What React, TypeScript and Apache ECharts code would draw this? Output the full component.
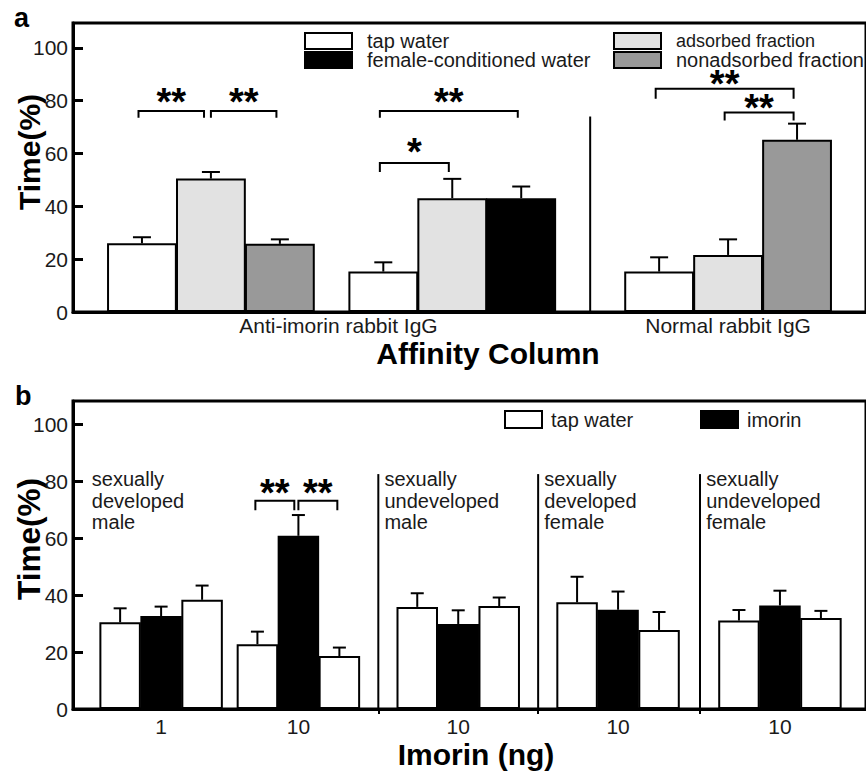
import React, { useEffect, useRef } from 'react';
import * as echarts from 'echarts';

const FONT = "'Liberation Sans', Arial, Helvetica, sans-serif";

// ---------------- Panel a : data ----------------
const aAxisLabels = ['Anti-imorin rabbit IgG', 'Normal rabbit IgG'];
const aConditions = ['tap water', 'female-conditioned water', 'adsorbed fraction', 'nonadsorbed fraction'];
const aBarGroups = [0, 0, 0, 1, 1, 1, 2, 2, 2];
const aBarSlots = [0, 1, 2, 0, 1, 2, 0, 1, 2];
const aBarConditions = [
  'tap water', 'adsorbed fraction', 'nonadsorbed fraction',
  'tap water', 'adsorbed fraction', 'female-conditioned water',
  'tap water', 'adsorbed fraction', 'nonadsorbed fraction',
];
const aMeans = [26.0, 50.5, 25.8, 15.3, 43.1, 43.1, 15.3, 21.6, 65.2];
const aErrors = [2.3, 2.5, 1.7, 3.5, 7.3, 4.4, 5.4, 5.9, 6.1];
const aYTicks = [0, 20, 40, 60, 80, 100];
// significance brackets (bar indices, levels in %)
const aBrFrom = [0, 1, 3, 3, 6, 7];
const aBrTo = [1, 2, 5, 4, 8, 8];
const aBrTip = [73.5, 73.5, 73.5, 53.0, 80.7, 72.5];
const aBrTop = [76.1, 76.1, 76.1, 56.4, 84.5, 75.5];
const aBrStarLevel = [82.0, 82.0, 82.0, 63.0, 88.6, 79.5];
const aBrStars = ['**', '**', '**', '*', '**', '**'];

// ---------------- Panel b : data ----------------
const bAxisLabels = ['1', '10', '10', '10', '10'];
const bConditions = ['tap water', 'imorin'];
const bDescriptors = [
  'sexually\ndeveloped\nmale',
  'sexually\nundeveloped\nmale',
  'sexually\ndeveloped\nfemale',
  'sexually\nundeveloped\nfemale',
];
const bBarGroups = [0, 0, 0, 1, 1, 1, 2, 2, 2, 3, 3, 3, 4, 4, 4];
const bBarSlots = [0, 1, 2, 0, 1, 2, 0, 1, 2, 0, 1, 2, 0, 1, 2];
const bBarConditions = bBarSlots.map((s) => (s === 1 ? 'imorin' : 'tap water'));
const bMeans = [30.5, 32.7, 38.4, 22.8, 60.9, 18.6, 35.9, 29.9, 36.2, 37.5, 34.9, 27.8, 31.1, 36.4, 32.0];
const bErrors = [4.9, 3.3, 5.0, 4.4, 7.3, 3.0, 4.8, 4.8, 3.0, 9.0, 6.4, 6.3, 3.7, 5.2, 2.5];
const bYTicks = [0, 20, 40, 60, 80, 100];
const bBrFrom = [3, 4];
const bBrTo = [4, 5];
const bBrTip = [69.9, 69.9];
const bBrTop = [73.2, 73.2];
const bBrStarLevel = [78.1, 78.1];
const bBrStars = ['**', '**'];

// ---------------- layout / styles ----------------
const FILLS: Record<string, string> = {
  'tap water': '#ffffff',
  'female-conditioned water': '#000000',
  'adsorbed fraction': '#e2e2e2',
  'nonadsorbed fraction': '#999999',
  imorin: '#000000',
};
const GRID_LEFT = 73;
const GRID_W = 803;
const A_LAYOUT = {
  top: 23, height: 289, yMax: 109.4, xMax: 11.5,
  groupCenters: [2, 5.5, 9.5], dividers: [7.5], dividerTop: 74,
  labelAt: [3.85, 9.5], cap: 18,
};
const B_LAYOUT = {
  top: 401, height: 308, yMax: 108.3, xMax: 19.35,
  groupCenters: [2.15, 5.5, 9.4, 13.3, 17.25], dividers: [7.45, 11.35, 15.3], dividerTop: 82.6,
  descAt: [0.46, 7.6, 11.5, 15.45], descTop: 84.7, cap: 13,
};
const STAR_SIZE = 38;

function barXs(centers: number[], groups: number[], slots: number[]) {
  return groups.map((g, i) => centers[g] + (slots[i] - 1));
}

function barSeries(idx: number, xs: number[], means: number[], conds: string[], bw: number) {
  return {
    type: 'bar',
    xAxisIndex: idx,
    yAxisIndex: idx,
    barWidth: bw,
    z: 2,
    itemStyle: { borderColor: '#000', borderWidth: 2 },
    data: means.map((m, i) => ({ value: [xs[i], m], itemStyle: { color: FILLS[conds[i]] } })),
  };
}

function errorSeries(idx: number, xs: number[], means: number[], errs: number[], cap: number) {
  return {
    type: 'custom',
    xAxisIndex: idx,
    yAxisIndex: idx,
    z: 5,
    silent: true,
    data: means.map((m, i) => [xs[i], m, errs[i]]),
    renderItem: (params: any, api: any) => {
      const x = api.value(0);
      const m = api.value(1);
      const e = api.value(2);
      const b = api.coord([x, m]);
      const t = api.coord([x, m + e]);
      return {
        type: 'group',
        children: [
          { type: 'line', shape: { x1: b[0], y1: b[1], x2: t[0], y2: t[1] }, style: { stroke: '#000', lineWidth: 2 } },
          { type: 'line', shape: { x1: t[0] - cap / 2, y1: t[1], x2: t[0] + cap / 2, y2: t[1] }, style: { stroke: '#000', lineWidth: 2 } },
        ],
      };
    },
  };
}

function bracketSeries(idx: number, xs: number[], from: number[], to: number[], tip: number[], top: number[], lvl: number[], stars: string[]) {
  const data = from.map((f, i) => {
    let x1 = xs[f] - 0.05;
    let x2 = xs[to[i]] - 0.05;
    if (to.some((t, j) => j !== i && t === f)) x1 += 0.05;
    if (from.some((s, j) => j !== i && s === to[i])) x2 -= 0.05;
    return [x1, x2, tip[i], top[i], lvl[i]];
  });
  return {
    type: 'custom',
    xAxisIndex: idx,
    yAxisIndex: idx,
    z: 6,
    silent: true,
    data,
    renderItem: (params: any, api: any) => {
      const x1 = api.value(0);
      const x2 = api.value(1);
      const t = api.value(2);
      const tp = api.value(3);
      const s = api.value(4);
      const pts = [api.coord([x1, t]), api.coord([x1, tp]), api.coord([x2, tp]), api.coord([x2, t])];
      const sc = api.coord([(x1 + x2) / 2, s]);
      return {
        type: 'group',
        children: [
          { type: 'polyline', shape: { points: pts }, style: { stroke: '#000', fill: 'none', lineWidth: 2 } },
          {
            type: 'text', x: sc[0], y: sc[1] + 0.17 * STAR_SIZE,
            style: {
              text: stars[params.dataIndex], align: 'center', verticalAlign: 'middle',
              fontSize: STAR_SIZE, lineHeight: 18, fontWeight: 'bold', fontFamily: FONT, fill: '#000',
            },
          },
        ],
      };
    },
  };
}

function dividerSeries(idx: number, xs: number[], topV: number) {
  return {
    type: 'custom',
    xAxisIndex: idx,
    yAxisIndex: idx,
    z: 4,
    silent: true,
    data: xs.map((x) => [x, topV]),
    renderItem: (params: any, api: any) => {
      const a = api.coord([api.value(0), 0]);
      const b = api.coord([api.value(0), api.value(1)]);
      return { type: 'line', shape: { x1: a[0], y1: a[1], x2: b[0], y2: b[1] }, style: { stroke: '#000', lineWidth: 2 } };
    },
  };
}

function descriptorSeries(idx: number, xs: number[], topV: number, texts: string[]) {
  return {
    type: 'custom',
    xAxisIndex: idx,
    yAxisIndex: idx,
    z: 6,
    silent: true,
    data: xs.map((x) => [x, topV]),
    renderItem: (params: any, api: any) => {
      const p = api.coord([api.value(0), api.value(1)]);
      return {
        type: 'text', x: p[0], y: p[1],
        style: { text: texts[params.dataIndex], align: 'left', verticalAlign: 'top', fontSize: 20, lineHeight: 21.7, fontFamily: FONT, fill: '#1a1a1a' },
      };
    },
  };
}

function yAxis(idx: number, max: number, ticks: number[]) {
  return {
    gridIndex: idx, type: 'value', min: 0, max,
    splitLine: { show: false },
    axisLine: { show: true, lineStyle: { color: '#000', width: 3 } },
    axisTick: { show: true, inside: true, length: 10, customValues: ticks, lineStyle: { color: '#000', width: 3 } },
    axisLabel: { customValues: ticks, fontSize: 21, color: '#1a1a1a', margin: 5, fontFamily: FONT },
  };
}

function xAxis(idx: number, max: number, labelAt: number[], labels: string[], margin: number, tickAt: number[] | null) {
  return {
    gridIndex: idx, type: 'value', min: 0, max,
    splitLine: { show: false },
    axisLine: { show: true, onZero: false, lineStyle: { color: '#000', width: 3 } },
    axisTick: tickAt ? { show: true, customValues: tickAt, length: 5, lineStyle: { color: '#000', width: 2 } } : { show: false },
    axisLabel: {
      customValues: labelAt,
      fontSize: 21, lineHeight: 21, color: '#1a1a1a', margin, fontFamily: FONT,
      formatter: (v: number) => {
        let best = 0;
        labelAt.forEach((p, i) => { if (Math.abs(p - v) < Math.abs(labelAt[best] - v)) best = i; });
        return labels[best];
      },
    },
  };
}

function legendItems(entries: string[], pos: number[][], boxW: number, boxH: number, textOff: number, sizes: number[]) {
  const out: any[] = [];
  entries.forEach((name, i) => {
    const [x, y] = pos[i];
    out.push({ type: 'rect', shape: { x, y, width: boxW, height: boxH }, style: { fill: FILLS[name], stroke: '#000', lineWidth: 2 } });
    out.push({
      type: 'text', x: x + textOff, y: y + boxH / 2,
      style: { text: name, align: 'left', verticalAlign: 'middle', fontSize: sizes[i], lineHeight: 17, fontFamily: FONT, fill: '#1a1a1a' },
    });
  });
  return out;
}

function titleText(text: string, x: number, y: number, size: number, rotate = false, align = 'center') {
  return {
    type: 'text', x, y, rotation: rotate ? Math.PI / 2 : 0,
    style: { text, align, verticalAlign: 'middle', fontSize: size, lineHeight: Math.round(size * 0.8), fontWeight: 'bold', fontFamily: FONT, fill: '#000' },
  };
}

function buildOption() {
  const aXs = barXs(A_LAYOUT.groupCenters, aBarGroups, aBarSlots);
  const bXs = barXs(B_LAYOUT.groupCenters, bBarGroups, bBarSlots);
  const aBw = GRID_W / A_LAYOUT.xMax;
  const bBw = GRID_W / B_LAYOUT.xMax;
  return {
    animation: false,
    backgroundColor: '#ffffff',
    textStyle: { fontFamily: FONT },
    grid: [
      { left: GRID_LEFT, top: A_LAYOUT.top, width: GRID_W, height: A_LAYOUT.height, show: true, borderColor: '#000', borderWidth: 3, backgroundColor: 'transparent' },
      { left: GRID_LEFT, top: B_LAYOUT.top, width: GRID_W, height: B_LAYOUT.height, show: true, borderColor: '#000', borderWidth: 3, backgroundColor: 'transparent' },
    ],
    xAxis: [
      xAxis(0, A_LAYOUT.xMax, A_LAYOUT.labelAt, aAxisLabels, 3, null),
      xAxis(1, B_LAYOUT.xMax, B_LAYOUT.groupCenters, bAxisLabels, 7, B_LAYOUT.dividers),
    ],
    yAxis: [yAxis(0, A_LAYOUT.yMax, aYTicks), yAxis(1, B_LAYOUT.yMax, bYTicks)],
    series: [
      barSeries(0, aXs, aMeans, aBarConditions, aBw),
      errorSeries(0, aXs, aMeans, aErrors, A_LAYOUT.cap),
      bracketSeries(0, aXs, aBrFrom, aBrTo, aBrTip, aBrTop, aBrStarLevel, aBrStars),
      dividerSeries(0, A_LAYOUT.dividers, A_LAYOUT.dividerTop),
      barSeries(1, bXs, bMeans, bBarConditions, bBw),
      errorSeries(1, bXs, bMeans, bErrors, B_LAYOUT.cap),
      bracketSeries(1, bXs, bBrFrom, bBrTo, bBrTip, bBrTop, bBrStarLevel, bBrStars),
      dividerSeries(1, B_LAYOUT.dividers, B_LAYOUT.dividerTop),
      descriptorSeries(1, B_LAYOUT.descAt, B_LAYOUT.descTop, bDescriptors),
    ],
    graphic: [
      ...legendItems(aConditions, [[305, 33], [305, 52], [614, 33], [614, 52]], 47, 16, 62, [20, 20, 18, 20]),
      ...legendItems(bConditions, [[505, 411], [701, 411]], 37, 17, 46, [20, 20]),
      titleText('Time(%)', 29, 152, 30, true),
      titleText('Time(%)', 29, 539, 31.5, true),
      titleText('Affinity Column', 488, 353, 30),
      titleText('Imorin (ng)', 476, 754, 30),
      titleText('a', 14, 18, 27, false, 'left'),
      titleText('b', 15, 396, 27, false, 'left'),
    ],
  };
}

export default function App() {
  const ref = useRef<HTMLDivElement>(null);
  useEffect(() => {
    if (!ref.current) return;
    const chart = echarts.init(ref.current, undefined, { renderer: 'svg' });
    chart.setOption(buildOption() as any);
    return () => chart.dispose();
  }, []);
  return (
    <div
      ref={ref}
      style={{ position: 'absolute', left: 0, top: 0, width: 866, height: 771, background: '#fff', overflow: 'hidden' }}
    />
  );
}
